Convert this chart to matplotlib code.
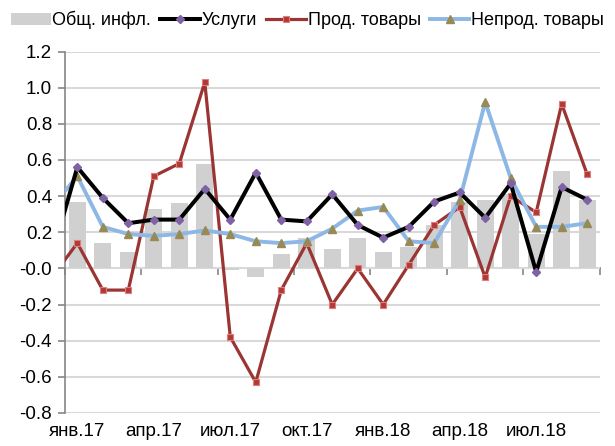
import numpy as np
import matplotlib.pyplot as plt

plt.rcParams["font.family"] = ["Liberation Sans", "DejaVu Sans"]

# months: dec.16 (only clipped stub) + jan.17 .. sep.18
months = ["дек.16",
          "янв.17", "фев.17", "мар.17", "апр.17", "май.17", "июн.17",
          "июл.17", "авг.17", "сен.17", "окт.17", "ноя.17", "дек.17",
          "янв.18", "фев.18", "мар.18", "апр.18", "май.18", "июн.18",
          "июл.18", "авг.18", "сен.18"]

total = [np.nan,
         0.37, 0.14, 0.09, 0.33, 0.36, 0.58,
         -0.01, -0.05, 0.08, 0.17, 0.11, 0.17,
         0.09, 0.12, 0.24, 0.37, 0.38, 0.41,
         0.19, 0.54, 0.38]

services = [0.07,
            0.56, 0.39, 0.25, 0.27, 0.27, 0.44,
            0.27, 0.53, 0.27, 0.26, 0.41, 0.24,
            0.17, 0.23, 0.37, 0.42, 0.28, 0.47,
            -0.02, 0.45, 0.38]

food = [-0.05,
        0.14, -0.12, -0.12, 0.51, 0.58, 1.03,
        -0.38, -0.63, -0.12, 0.14, -0.20, 0.00,
        -0.20, 0.02, 0.24, 0.34, -0.05, 0.40,
        0.31, 0.91, 0.52]

nonfood = [0.34,
           0.51, 0.23, 0.19, 0.18, 0.19, 0.21,
           0.19, 0.15, 0.14, 0.15, 0.22, 0.32,
           0.34, 0.15, 0.14, 0.38, 0.92, 0.50,
           0.23, 0.23, 0.25]

tick_labels = ["янв.17", "апр.17", "июл.17", "окт.17", "янв.18", "апр.18", "июл.18"]

x = np.arange(len(months)) - 1  # jan.17 at 0

fig = plt.figure(figsize=(6.15, 4.46), dpi=100)
ax = fig.add_axes([0.105, 0.074, 0.8705, 0.8105])

grid_c = "#d9d9d9"
axis_c = "#868686"

ax.set_ylim(-0.8, 1.2)
ax.set_xlim(-0.5, 20.5)
ax.set_yticks(np.arange(-0.8, 1.21, 0.2))
ax.set_yticklabels([f"{v:.1f}" for v in np.arange(-0.8, 1.21, 0.2)])
ax.yaxis.grid(True, color=grid_c, linewidth=1.5)
ax.set_axisbelow(True)

ax.bar(x, total, width=0.66, color="#d0d0d0", label="Общ. инфл.", zorder=2)
ax.plot(x, services, color="black", linewidth=2.9, marker="D", markersize=4.5,
        markerfacecolor="#7f61a6", markeredgecolor="#7f61a6", label="Услуги", zorder=4)
ax.plot(x, food, color="#9b3533", linewidth=2.3, marker="s", markersize=5,
        markerfacecolor="#b03a38", markeredgecolor="#e07d7a", markeredgewidth=0.8,
        label="Прод. товары", zorder=3)
ax.plot(x, nonfood, color="#8db7e5", linewidth=2.8, marker="^", markersize=6,
        markerfacecolor="#978a55", markeredgecolor="#978a55", label="Непрод. товары", zorder=3)

for s in ["top", "right", "bottom"]:
    ax.spines[s].set_visible(False)
ax.spines["left"].set_color(axis_c)
ax.spines["left"].set_linewidth(1.2)
ax.tick_params(axis="y", colors=axis_c, length=5, width=1.2, labelsize=13.5,
               labelcolor="black", pad=4)

# category labels at the bottom
ax.set_xticks(np.arange(0, 21, 3))
ax.set_xticklabels(tick_labels)
ax.tick_params(axis="x", length=0, labelsize=13.5, pad=7)

# horizontal axis line at zero with ticks between categories
zax = ax.secondary_xaxis(0.4)
zax.set_xticks(np.arange(-0.5, 21, 3))
zax.set_xticklabels([])
zax.tick_params(axis="x", direction="out", length=5, width=1.2, colors=axis_c)
zax.spines["bottom"].set_color(axis_c)
zax.spines["bottom"].set_linewidth(1.2)

handles, labels = ax.get_legend_handles_labels()
order = [3, 0, 1, 2]
fig.legend([handles[i] for i in order], [labels[i] for i in order],
           loc="upper left", bbox_to_anchor=(0.0, 1.0), ncol=4, frameon=False,
           fontsize=13, handlelength=2.2, handletextpad=0.1, columnspacing=0.5,
           borderaxespad=0.3, borderpad=0.3)

fig.savefig("out.png", dpi=100)
